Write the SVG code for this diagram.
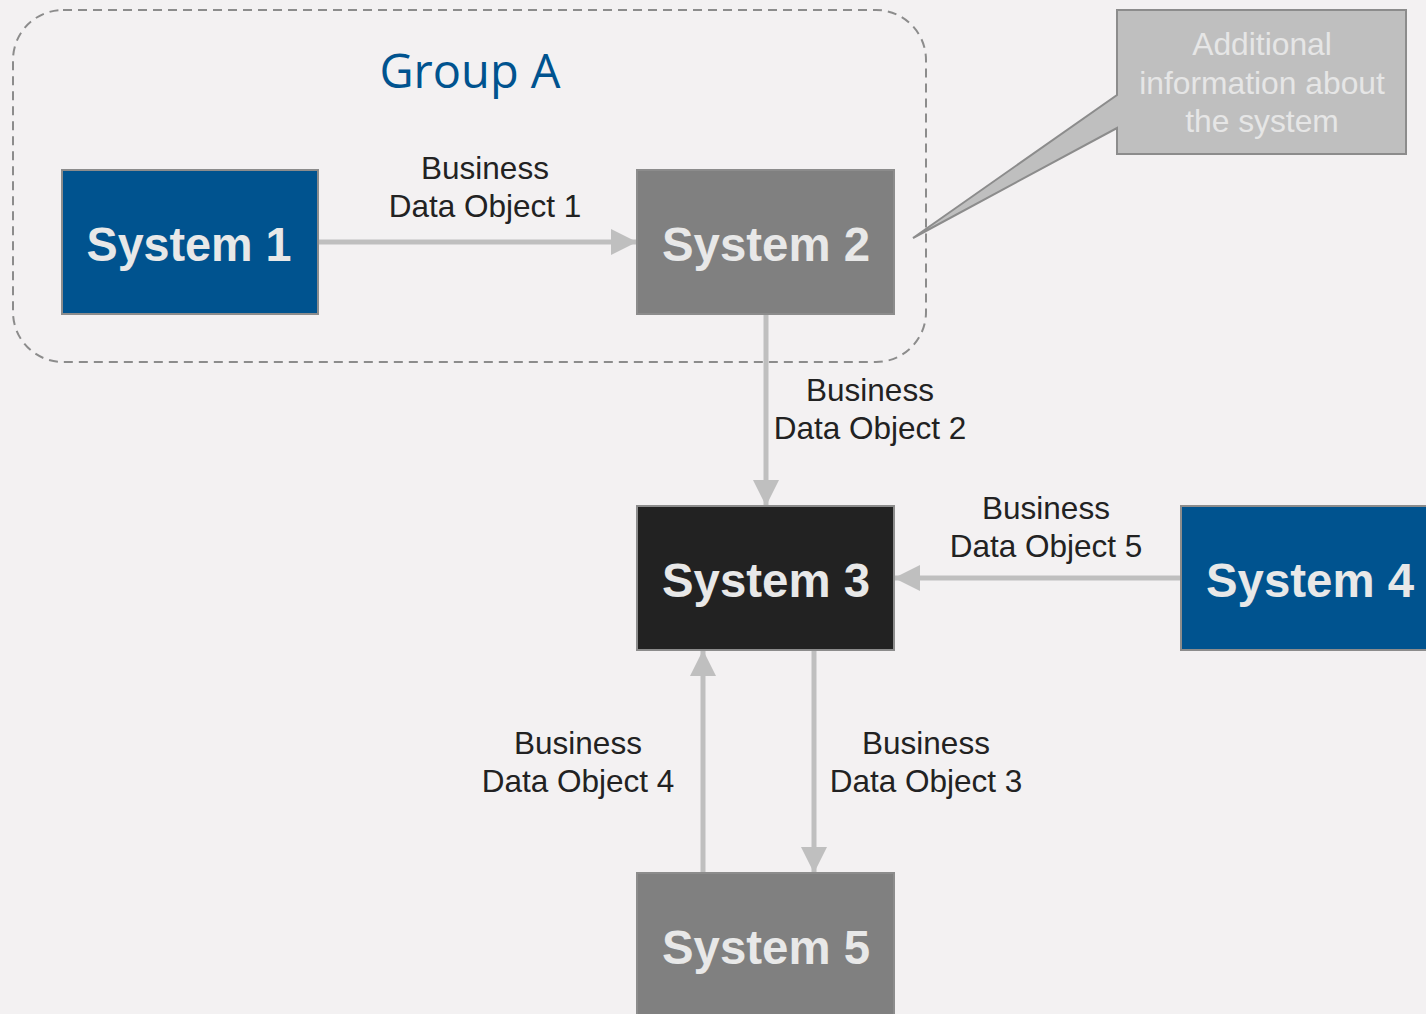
<svg xmlns="http://www.w3.org/2000/svg" width="1426" height="1014" viewBox="0 0 1426 1014">
<defs>
<marker id="arr" markerUnits="userSpaceOnUse" markerWidth="28" markerHeight="28" viewBox="0 0 28 28" refX="26" refY="14" orient="auto">
<path d="M0,1 L26,14 L0,27 Z" fill="#bfbfbf"/>
</marker>
<style>
.sys{stroke:#8c8c8c;stroke-width:2}
.st{font-family:"Liberation Sans",Arial,sans-serif;font-weight:bold;font-size:48px;fill:#e8e8e8;text-anchor:middle}
.lb{font-family:"Liberation Sans",Arial,sans-serif;font-size:31.5px;fill:#222;text-anchor:middle}
.cn{stroke:#bfbfbf;stroke-width:5;fill:none;marker-end:url(#arr)}
.co{font-family:"Liberation Sans",Arial,sans-serif;font-size:31.8px;fill:#e6e6e6;text-anchor:middle}
</style>
</defs>
<rect width="1426" height="1014" fill="#f3f1f2"/>
<g id="groupA">
<rect x="13" y="10" width="913" height="352" rx="50" fill="none" stroke="#8c8c8c" stroke-width="2" stroke-dasharray="9 6"/>
<text x="470" y="88" font-family="'Open Sans','Noto Sans',sans-serif" font-size="47" fill="#00538f" text-anchor="middle">Group A</text>
</g>
<g id="callout">
<path d="M1117,10 H1406 V154 H1117 V128 L913,238 L1117,95 Z" fill="#bfbfbf" stroke="#8c8c8c" stroke-width="2"/>
<text class="co" x="1262" y="55">Additional</text>
<text class="co" x="1262" y="94">information about</text>
<text class="co" x="1262" y="132">the system</text>
</g>
<g id="connectors">
<line class="cn" x1="318" y1="242" x2="637" y2="242"/>
<line class="cn" x1="766" y1="314" x2="766" y2="506"/>
<line class="cn" x1="1181" y1="578" x2="894" y2="578"/>
<line class="cn" x1="703" y1="873" x2="703" y2="650"/>
<line class="cn" x1="814" y1="650" x2="814" y2="873"/>
<text class="lb" x="485" y="179">Business</text>
<text class="lb" x="485" y="217">Data Object 1</text>
<text class="lb" x="870" y="401">Business</text>
<text class="lb" x="870" y="439">Data Object 2</text>
<text class="lb" x="1046" y="519">Business</text>
<text class="lb" x="1046" y="557">Data Object 5</text>
<text class="lb" x="578" y="754">Business</text>
<text class="lb" x="578" y="792">Data Object 4</text>
<text class="lb" x="926" y="754">Business</text>
<text class="lb" x="926" y="792">Data Object 3</text>
</g>
<g id="system1">
<rect class="sys" x="62" y="170" width="256" height="144" fill="#00538f"/>
<text class="st" x="189" y="261" textLength="205" lengthAdjust="spacingAndGlyphs">System 1</text>
</g>
<g id="system2">
<rect class="sys" x="637" y="170" width="257" height="144" fill="#808080"/>
<text class="st" x="766" y="261" textLength="208" lengthAdjust="spacingAndGlyphs">System 2</text>
</g>
<g id="system3">
<rect class="sys" x="637" y="506" width="257" height="144" fill="#222222"/>
<text class="st" x="766" y="597" textLength="208" lengthAdjust="spacingAndGlyphs">System 3</text>
</g>
<g id="system4">
<rect class="sys" x="1181" y="506" width="250" height="144" fill="#00538f"/>
<text class="st" x="1310" y="597" textLength="208" lengthAdjust="spacingAndGlyphs">System 4</text>
</g>
<g id="system5">
<rect class="sys" x="637" y="873" width="257" height="150" fill="#808080"/>
<text class="st" x="766" y="964" textLength="208" lengthAdjust="spacingAndGlyphs">System 5</text>
</g>
</svg>
